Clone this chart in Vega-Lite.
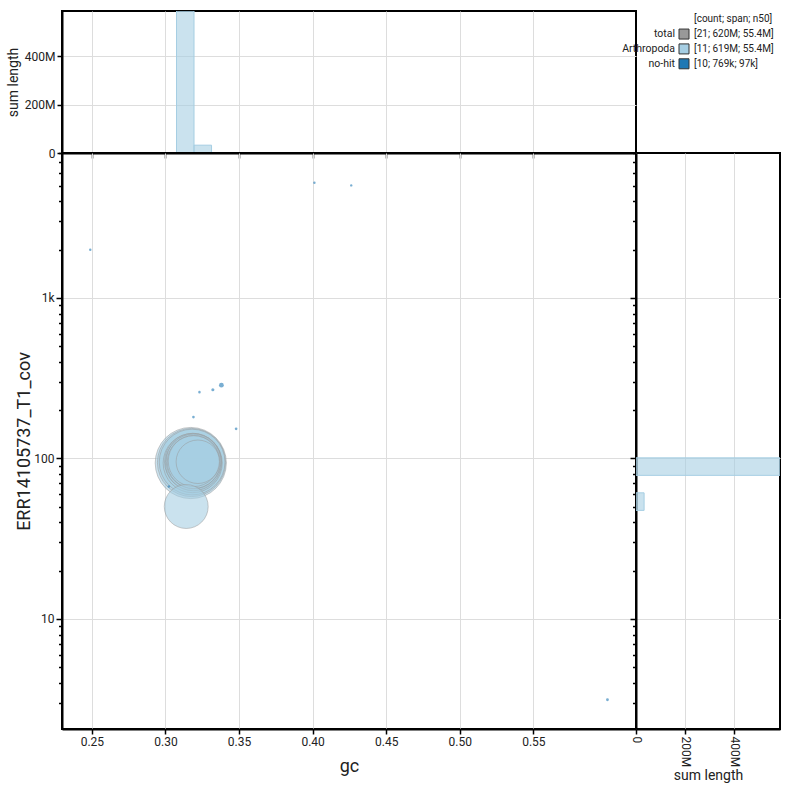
{
  "$schema": "https://vega.github.io/schema/vega-lite/v6.json",
  "background": "white",
  "padding": {"left": 5, "top": 10, "right": 10, "bottom": 5},
  "columns": 2,
  "spacing": 0,
  "bounds": "flush",
  "config": {
    "font": "Roboto",
    "view": {"stroke": "black", "strokeWidth": 2},
    "axis": {
      "domainColor": "black",
      "domainWidth": 2,
      "tickColor": "black",
      "tickWidth": 1.5,
      "labelFont": "Roboto",
      "labelFontSize": 12,
      "labelColor": "#222222",
      "titleFont": "Roboto",
      "titleFontWeight": "normal",
      "titleColor": "#222222",
      "gridColor": "#dddddd",
      "gridWidth": 1
    }
  },
  "datasets": {
    "contigs": [
      {"id": "A1", "category": "Arthropoda", "gc": 0.3172, "cov": 93.7, "length": 86900000},
      {"id": "A2", "category": "Arthropoda", "gc": 0.3177, "cov": 94.4, "length": 79700000},
      {"id": "A3", "category": "Arthropoda", "gc": 0.3181, "cov": 95.0, "length": 74000000},
      {"id": "A4", "category": "Arthropoda", "gc": 0.3185, "cov": 93.6, "length": 60000000},
      {"id": "A5", "category": "Arthropoda", "gc": 0.3187, "cov": 95.5, "length": 55400000},
      {"id": "A6", "category": "Arthropoda", "gc": 0.319, "cov": 94.1, "length": 54000000},
      {"id": "A7", "category": "Arthropoda", "gc": 0.3191, "cov": 96.1, "length": 51300000},
      {"id": "A8", "category": "Arthropoda", "gc": 0.3192, "cov": 95.0, "length": 48000000},
      {"id": "A9", "category": "Arthropoda", "gc": 0.3192, "cov": 96.3, "length": 44500000},
      {"id": "A10", "category": "Arthropoda", "gc": 0.322, "cov": 95.4, "length": 32400000},
      {"id": "A11", "category": "Arthropoda", "gc": 0.3141, "cov": 50.2, "length": 33000000},
      {"id": "N1", "category": "no-hit", "gc": 0.338, "cov": 286, "length": 326000},
      {"id": "N2", "category": "no-hit", "gc": 0.3322, "cov": 268, "length": 97000},
      {"id": "N3", "category": "no-hit", "gc": 0.3231, "cov": 259, "length": 42000},
      {"id": "N4", "category": "no-hit", "gc": 0.319, "cov": 181, "length": 48000},
      {"id": "N5", "category": "no-hit", "gc": 0.348, "cov": 153, "length": 55000},
      {"id": "N6", "category": "no-hit", "gc": 0.3023, "cov": 67, "length": 38000},
      {"id": "N7", "category": "no-hit", "gc": 0.2489, "cov": 1995, "length": 35000},
      {"id": "N8", "category": "no-hit", "gc": 0.4012, "cov": 5224, "length": 30000},
      {"id": "N9", "category": "no-hit", "gc": 0.4262, "cov": 5024, "length": 28000},
      {"id": "N10", "category": "no-hit", "gc": 0.6003, "cov": 3.14, "length": 70000}
    ],
    "gcBins": [
      {"category": "Arthropoda", "gc_start": 0.3075, "gc_end": 0.3194, "length": 586800000},
      {"category": "Arthropoda", "gc_start": 0.3194, "gc_end": 0.3313, "length": 32400000}
    ],
    "covBins": [
      {"category": "Arthropoda", "cov_start": 78.5, "cov_end": 100.9, "length": 586200000},
      {"category": "Arthropoda", "cov_start": 47.5, "cov_end": 61.1, "length": 33000000}
    ],
    "legendRows": [
      {"row": 0, "name": "", "stats": "[count; span; n50]", "color": null},
      {"row": 1, "name": "total", "stats": "[21; 620M; 55.4M]", "color": "#999999"},
      {"row": 2, "name": "Arthropoda", "stats": "[11; 619M; 55.4M]", "color": "#a6cee3"},
      {"row": 3, "name": "no-hit", "stats": "[10; 769k; 97k]", "color": "#1f78b4"}
    ]
  },
  "concat": [
    {
      "width": 574,
      "height": 142,
      "data": {"name": "gcBins"},
      "mark": {"type": "rect", "fill": "#a6cee3", "fillOpacity": 0.6, "stroke": "#a6cee3", "strokeWidth": 1, "clip": true},
      "encoding": {
        "x": {
          "field": "gc_start", "type": "quantitative",
          "scale": {"domain": [0.2297, 0.6197], "nice": false, "zero": false},
          "axis": {"values": [0.25, 0.3, 0.35, 0.4, 0.45, 0.5, 0.55], "labels": false, "title": null, "tickSize": 5, "grid": true}
        },
        "x2": {"field": "gc_end"},
        "y": {
          "field": "length", "type": "quantitative",
          "scale": {"domain": [0, 586800000], "nice": false},
          "axis": {"values": [0, 200000000, 400000000], "labelExpr": "datum.value == 0 ? '0' : format(datum.value, '~s')", "title": "sum length", "titleFontSize": 14, "tickSize": 5, "grid": true}
        },
        "y2": {"datum": 0}
      }
    },
    {
      "width": 144,
      "height": 142,
      "view": {"stroke": null},
      "data": {"name": "legendRows"},
      "encoding": {
        "y": {"field": "row", "type": "quantitative", "scale": {"domain": [-0.55, 9], "reverse": true, "nice": false, "zero": false}, "axis": null}
      },
      "layer": [
        {
          "transform": [{"filter": "datum.color != null"}],
          "mark": {"type": "square", "size": 100, "stroke": "#333333", "strokeWidth": 1, "opacity": 1},
          "encoding": {
            "x": {"datum": 48, "type": "quantitative", "scale": {"domain": [0, 144], "nice": false}, "axis": null},
            "fill": {"field": "color", "type": "nominal", "scale": null}
          }
        },
        {
          "mark": {"type": "text", "align": "right", "baseline": "middle", "dx": -9, "fontSize": 10.5, "color": "#222222"},
          "encoding": {
            "x": {"datum": 48, "type": "quantitative"},
            "text": {"field": "name"}
          }
        },
        {
          "mark": {"type": "text", "align": "left", "baseline": "middle", "dx": 10, "fontSize": 10, "color": "#222222"},
          "encoding": {
            "x": {"datum": 48, "type": "quantitative"},
            "text": {"field": "stats"}
          }
        }
      ]
    },
    {
      "width": 574,
      "height": 576,
      "data": {"name": "contigs"},
      "encoding": {
        "x": {
          "field": "gc", "type": "quantitative",
          "scale": {"domain": [0.2297, 0.6197], "nice": false, "zero": false},
          "axis": {"values": [0.25, 0.3, 0.35, 0.4, 0.45, 0.5, 0.55], "format": ".2f", "title": "gc", "titleFontSize": 18, "tickSize": 5, "grid": true, "titlePadding": 10}
        },
        "y": {
          "field": "cov", "type": "quantitative",
          "scale": {"type": "log", "domain": [2.064, 8000], "nice": false},
          "axis": {
            "values": [3, 4, 5, 6, 7, 8, 9, 10, 20, 30, 40, 50, 60, 70, 80, 90, 100, 200, 300, 400, 500, 600, 700, 800, 900, 1000, 2000, 3000, 4000, 5000, 6000, 7000, 8000],
            "labelExpr": "datum.value == 10 ? '10' : datum.value == 100 ? '100' : datum.value == 1000 ? '1k' : ''",
            "labelOverlap": false,
            "tickSize": {"condition": {"test": "datum.value == 10 || datum.value == 100 || datum.value == 1000", "value": 6}, "value": 3.5},
            "gridOpacity": {"condition": {"test": "datum.value == 10 || datum.value == 100 || datum.value == 1000", "value": 1}, "value": 0},
            "grid": true,
            "title": "ERR14105737_T1_cov",
            "titleFontSize": 18,
            "titlePadding": 0
          }
        },
        "size": {"field": "length", "type": "quantitative", "scale": {"domain": [0, 86900000], "range": [4, 5069], "nice": false}, "legend": null},
        "color": {"field": "category", "type": "nominal", "scale": {"domain": ["Arthropoda", "no-hit"], "range": ["#a6cee3", "#1f78b4"]}, "legend": null},
        "order": {"field": "length", "type": "quantitative", "sort": "descending"}
      },
      "layer": [
        {
          "transform": [{"filter": "datum.category == 'Arthropoda'"}],
          "mark": {"type": "circle", "fillOpacity": 0.6, "stroke": "#999999", "strokeWidth": 0.6, "strokeOpacity": 0.85}
        },
        {
          "transform": [{"filter": "datum.category == 'no-hit'"}],
          "mark": {"type": "circle", "fillOpacity": 0.6, "strokeWidth": 0}
        }
      ]
    },
    {
      "width": 144,
      "height": 576,
      "data": {"name": "covBins"},
      "mark": {"type": "rect", "fill": "#a6cee3", "fillOpacity": 0.6, "stroke": "#a6cee3", "strokeWidth": 1, "clip": true},
      "encoding": {
        "y": {
          "field": "cov_start", "type": "quantitative",
          "scale": {"type": "log", "domain": [2.064, 8000], "nice": false},
          "axis": {
            "values": [3, 4, 5, 6, 7, 8, 9, 10, 20, 30, 40, 50, 60, 70, 80, 90, 100, 200, 300, 400, 500, 600, 700, 800, 900, 1000, 2000, 3000, 4000, 5000, 6000, 7000, 8000],
            "labels": false,
            "title": null,
            "tickSize": {"condition": {"test": "datum.value == 10 || datum.value == 100 || datum.value == 1000", "value": 6}, "value": 3.5},
            "gridOpacity": {"condition": {"test": "datum.value == 10 || datum.value == 100 || datum.value == 1000", "value": 1}, "value": 0},
            "grid": true
          }
        },
        "y2": {"field": "cov_end"},
        "x": {
          "field": "length", "type": "quantitative",
          "scale": {"domain": [0, 586200000], "nice": false},
          "axis": {"values": [0, 200000000, 400000000], "labelExpr": "datum.value == 0 ? '0' : format(datum.value, '~s')", "labelAngle": 90, "title": "sum length", "titleFontSize": 14, "tickSize": 5, "grid": true, "titlePadding": 2}
        },
        "x2": {"datum": 0}
      }
    }
  ]
}
